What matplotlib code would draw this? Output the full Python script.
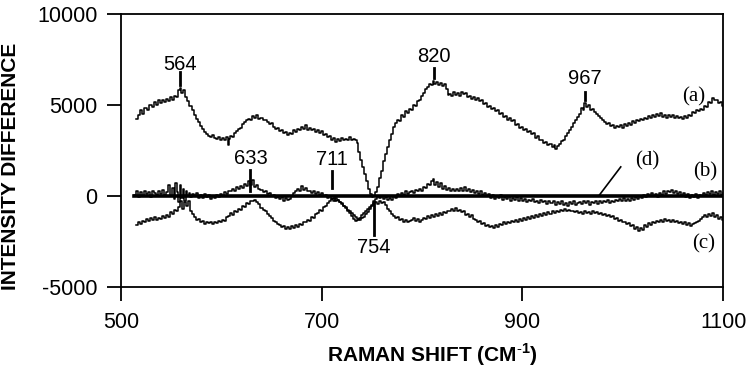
import matplotlib
matplotlib.use("Agg")
import matplotlib.pyplot as plt

plt.rcParams['font.family'] = ['Liberation Sans', 'DejaVu Sans']
plt.rcParams['mathtext.fontset'] = 'custom'
plt.rcParams['mathtext.bf'] = 'Liberation Sans:bold'
plt.rcParams['mathtext.rm'] = 'Liberation Sans'

# ---- data ----
a_x = [515, 518, 520, 522, 524, 527, 529, 532, 534, 536, 538, 540, 542, 544, 546, 548, 550, 552, 554, 556, 558, 559, 561, 563, 565,
       567, 569, 572, 574, 576, 578, 580, 582, 584, 586, 588, 590, 592, 594, 596, 598, 600, 602, 604, 606, 607, 608, 610, 612, 614,
       616, 618, 620, 622, 624, 626, 628, 630, 632, 634, 636, 638, 640, 642, 644, 646, 648, 650, 652, 654, 656, 658, 660, 662, 664,
       666, 668, 670, 672, 674, 676, 678, 680, 682, 684, 686, 688, 690, 692, 694, 696, 698, 700, 702, 704, 706, 708, 710, 712, 714,
       716, 718, 720, 722, 724, 726, 728, 730, 732, 734, 736, 737, 739, 741, 743, 745, 747, 749, 751, 752, 754, 756, 758, 760, 762,
       764, 766, 768, 770, 772, 774, 776, 778, 780, 782, 784, 786, 788, 790, 792, 794, 796, 798, 800, 802, 804, 806, 808, 810, 811,
       813, 815, 817, 819, 821, 823, 825, 826, 828, 830, 832, 834, 836, 838, 840, 842, 844, 846, 848, 850, 852, 854, 856, 858, 860,
       862, 864, 866, 868, 870, 872, 874, 876, 878, 880, 882, 884, 886, 888, 890, 892, 894, 896, 898, 900, 902, 904, 906, 908, 910,
       912, 914, 916, 918, 920, 922, 924, 926, 928, 930, 932, 933, 935, 937, 939, 941, 943, 945, 947, 949, 951, 953, 955, 957, 959,
       961, 962, 964, 966, 968, 970, 972, 974, 976, 978, 980, 982, 984, 986, 988, 990, 992, 994, 996, 998, 1000, 1002, 1004, 1006, 1008,
       1010, 1012, 1014, 1016, 1018, 1020, 1022, 1024, 1026, 1028, 1030, 1032, 1034, 1036, 1038, 1040, 1042, 1044, 1046, 1048, 1050,
       1052, 1054, 1056, 1058, 1060, 1062, 1064, 1066, 1068, 1070, 1072, 1074, 1076, 1078, 1080, 1082, 1084, 1086, 1088, 1090, 1092,
       1094, 1096, 1098, 1100]
a_y = [4250, 4450, 4700, 4500, 4850, 4700, 5000, 4900, 5150, 5000, 5250, 5100, 5300, 5150, 5350, 5200, 5450, 5300, 5500, 5450, 5800, 5950, 5650, 5800, 5450,
       5200, 4950, 4700, 4450, 4250, 4050, 3850, 3700, 3500, 3400, 3300, 3250, 3350, 3200, 3150, 3250, 3100, 3200, 3050, 3250, 2800, 3150, 3300, 3250, 3450,
       3550, 3700, 3750, 3950, 4050, 4150, 4250, 4200, 4400, 4300, 4450, 4250, 4300, 4150, 4200, 4050, 3950, 4000, 3800, 3700, 3750, 3550, 3600, 3450, 3500,
       3350, 3450, 3400, 3600, 3500, 3700, 3650, 3800, 3700, 3900, 3650, 3750, 3600, 3700, 3500, 3600, 3450, 3550, 3350, 3400, 3250, 3300, 3100, 3200, 2950,
       3150, 3000, 3200, 3050, 3150, 3100, 3250, 3100, 3150, 3050, 2900, 2400, 2000, 1600, 1200, 800, 400, 100, -50, 0, 200, 500, 1000, 1400, 1900,
       2300, 2700, 3100, 3400, 3800, 4000, 4200, 4100, 4450, 4350, 4650, 4550, 4800, 4700, 5000, 4950, 5200, 5300, 5500, 5650, 5900, 6000, 6150, 6100, 6300,
       6150, 6250, 6100, 6200, 6050, 6150, 5900, 5550, 5600, 5500, 5700, 5550, 5650, 5500, 5700, 5600, 5650, 5450, 5500, 5350, 5450, 5300, 5400, 5200, 5250,
       5050, 5100, 4900, 4950, 4800, 4850, 4650, 4700, 4500, 4550, 4350, 4400, 4200, 4300, 4100, 4150, 3900, 3950, 3750, 3800, 3600, 3700, 3500, 3550, 3400,
       3450, 3200, 3300, 3050, 3100, 2900, 2950, 2800, 2850, 2700, 2800, 2600, 2750, 2850, 3000, 3100, 3300, 3450, 3600, 3800, 4000, 4150, 4350, 4500, 4850,
       4750, 5100, 4900, 5000, 4750, 4800, 4600, 4500, 4400, 4300, 4150, 4050, 3950, 4000, 3850, 3900, 3750, 3850, 3800, 3900, 3750, 3950, 3850, 4000, 3900,
       4100, 4000, 4150, 4100, 4250, 4200, 4300, 4250, 4400, 4300, 4450, 4350, 4500, 4400, 4550, 4350, 4450, 4300, 4450, 4350, 4450,
       4300, 4400, 4300, 4350, 4250, 4400, 4300, 4450, 4400, 4600, 4550, 4700, 4650, 4800, 4750, 4950, 4900, 5150, 5100, 5400, 5250,
       5300, 5100, 5150, 4950]

b_x = [513, 516, 518, 520, 522, 524, 526, 528, 530, 532, 534, 536, 538, 540, 542, 544, 546, 548, 550, 552, 553, 555, 556, 558, 559,
       561, 562, 564, 565, 567, 568, 570, 572, 574, 576, 578, 580, 582, 584, 586, 588, 590, 592, 594, 596, 598, 600, 602, 604, 606,
       608, 610, 612, 614, 616, 618, 620, 622, 624, 626, 628, 630, 632, 634, 636, 638, 640, 642, 644, 646, 648, 650, 652, 654, 656,
       658, 660, 662, 664, 666, 668, 670, 672, 674, 676, 678, 680, 682, 684, 686, 688, 690, 692, 694, 696, 698, 700, 702, 704, 706,
       708, 710, 712, 714, 716, 718, 720, 722, 724, 726, 728, 730, 732, 734, 736, 738, 740, 742, 744, 746, 748, 750, 752, 754, 756,
       758, 760, 762, 764, 766, 768, 770, 772, 774, 776, 778, 780, 782, 784, 786, 788, 790, 792, 794, 796, 798, 800, 802, 804, 806,
       808, 810, 811, 813, 815, 817, 819, 821, 823, 825, 827, 829, 831, 833, 835, 837, 839, 841, 843, 845, 847, 849, 851, 853, 855,
       857, 859, 861, 863, 865, 867, 869, 871, 873, 875, 877, 879, 881, 883, 885, 887, 889, 891, 893, 895, 897, 899, 901, 903, 905,
       907, 909, 911, 913, 915, 917, 919, 921, 923, 925, 927, 929, 931, 933, 935, 937, 939, 941, 943, 945, 947, 949, 951, 953, 955,
       957, 959, 961, 963, 965, 967, 969, 971, 973, 975, 977, 979, 981, 983, 985, 987, 989, 991, 993, 995, 997, 999, 1001, 1003, 1005,
       1007, 1009, 1011, 1013, 1015, 1017, 1019, 1021, 1023, 1025, 1027, 1029, 1031, 1033, 1035, 1037, 1039, 1041, 1043, 1045, 1047,
       1049, 1051, 1053, 1055, 1057, 1059, 1061, 1063, 1065, 1067, 1069, 1071, 1073, 1075, 1077, 1079, 1081, 1083, 1085, 1087, 1089,
       1091, 1093, 1095, 1097, 1099, 1100]
b_y = [50, 250, -50, 200, 0, 300, 100, 200, -50, 250, 150, 50, 300, 100, 350, 50, 200, 600, 0, 450, -150, 700, 200, -350, 600,
       -100, 400, -250, 250, 0, 150, -50, 100, 0, 150, -100, 50, -100, 100, -50, 50, -150, 0, -100, 50, -50, 100, 0, 200, 100,
       300, 250, 400, 300, 500, 400, 550, 450, 650, 550, 850, 600, 900, 500, 600, 400, 350, 200, 250, 100, 150, 0, 50, -100, -50,
       -150, -50, -250, -100, -200, -150, 0, 150, 250, 400, 300, 550, 350, 450, 250, 300, 150, 250, 100, 200, 50, 150, 0, 50, -100,
       0, -150, -100, -250, -200, -350, -400, -550, -600, -750, -850, -950, -1050, -1150, -1250, -1300, -1200, -1150, -1000, -900, -700, -550, -300, -150, 0,
       -100, 0, -150, -50, -200, -100, -200, 0, -100, 100, 0, 150, 50, 250, 100, 200, 300, 150, 350, 250, 400, 300, 500, 450, 650,
       600, 800, 950, 600, 750, 500, 700, 400, 550, 350, 450, 300, 400, 250, 400, 300, 450, 250, 500, 300, 400, 200, 350, 150, 300,
       100, 250, 50, 150, 0, 100, -100, 50, -150, 0, -100, 50, -200, -50, -150, 0, -250, -100, -200, -50, -300, -100, -250, -150, -350,
       -200, -300, -150, -350, -250, -400, -200, -350, -300, -450, -250, -400, -300, -500, -350, -450, -300, -500, -400, -550, -350, -450, -300, -500, -400,
       -350, -450, -250, -400, -300, -500, -350, -400, -250, -450, -300, -400, -250, -350, -200, -400, -250, -350, -200, -300, -150, -250, -100, -250, -150,
       -300, -100, -200, -50, -150, 0, -100, 50, -50, 100, 0, 150, 0, 100, -50, 150, 50, 250, 100, 300, 200,
       350, 150, 250, 100, 200, 0, 150, -50, 100, -100, 50, -50, 100, -100, 50, 0, 150, 50, 200, 100, 250,
       50, 200, 100, 250, 50, 150]

c_x = [515, 518, 520, 522, 524, 526, 528, 530, 532, 534, 536, 538, 540, 542, 544, 546, 548, 550, 552, 554, 556, 558, 560, 562, 564,
       566, 568, 570, 572, 574, 576, 578, 580, 582, 584, 586, 588, 590, 592, 594, 596, 598, 600, 602, 604, 606, 608, 610, 612, 614,
       616, 618, 620, 622, 624, 626, 628, 630, 632, 634, 636, 638, 640, 642, 644, 646, 648, 650, 652, 654, 656, 658, 660, 662, 664,
       666, 668, 670, 672, 674, 676, 678, 680, 682, 684, 686, 688, 690, 692, 694, 696, 698, 700, 702, 704, 706, 708, 710, 712, 714,
       716, 718, 720, 722, 724, 726, 728, 730, 732, 734, 736, 738, 740, 742, 744, 746, 748, 750, 752, 754, 756, 758, 760, 762, 764,
       766, 768, 770, 772, 774, 776, 778, 780, 782, 784, 786, 788, 790, 792, 794, 796, 798, 800, 802, 804, 806, 808, 810, 812, 814,
       816, 818, 820, 822, 824, 826, 828, 830, 832, 834, 836, 838, 840, 842, 844, 846, 848, 850, 852, 854, 856, 858, 860, 862, 864,
       866, 868, 870, 872, 874, 876, 878, 880, 882, 884, 886, 888, 890, 892, 894, 896, 898, 900, 902, 904, 906, 908, 910, 912, 914,
       916, 918, 920, 922, 924, 926, 928, 930, 932, 934, 936, 938, 940, 942, 944, 946, 948, 950, 952, 954, 956, 958, 960, 962, 964,
       966, 968, 970, 972, 974, 976, 978, 980, 982, 984, 986, 988, 990, 992, 994, 996, 998, 1000, 1002, 1004, 1006, 1008, 1010, 1012, 1014,
       1016, 1018, 1020, 1022, 1024, 1026, 1028, 1030, 1032, 1034, 1036, 1038, 1040, 1042, 1044, 1046, 1048, 1050, 1052, 1054, 1056,
       1058, 1060, 1062, 1064, 1066, 1068, 1070, 1072, 1074, 1076, 1078, 1080, 1082, 1084, 1086, 1088, 1090, 1092, 1094, 1096, 1098, 1100]
c_y = [-1600, -1450, -1550, -1350, -1450, -1250, -1350, -1200, -1300, -1150, -1300, -1200, -1250, -1100, -1200, -1050, -1150, -900, -1000, -750, -850, -600, -300, -700, -350,
       -550, -300, -800, -1000, -1150, -1300, -1250, -1450, -1350, -1550, -1450, -1500, -1400, -1550, -1450, -1500, -1350, -1450, -1300, -1350, -1150, -1100, -950, -1050, -850,
       -900, -700, -750, -550, -600, -400, -450, -250, -300, -200, -350, -450, -650, -750, -850, -1000, -1100, -1200, -1350, -1400, -1550, -1600, -1700, -1650, -1800,
       -1700, -1800, -1650, -1750, -1600, -1700, -1550, -1600, -1400, -1450, -1300, -1350, -1150, -1200, -1000, -950, -750, -800, -600, -550, -400, -300, -150, -250, -100,
       -200, -350, -450, -550, -650, -800, -950, -1100, -1250, -1350, -1300, -1200, -1050, -950, -850, -700, -600, -500, -400, -350, -450, -300, -400, -350, -500,
       -700, -850, -1000, -1100, -1200, -1150, -1300, -1250, -1400, -1300, -1450, -1350, -1300, -1200, -1350, -1250, -1400, -1300, -1200, -1250, -1100, -1200, -1050, -1150, -1000,
       -1100, -950, -1050, -900, -950, -800, -850, -700, -800, -650, -850, -750, -900, -850, -1050, -1000, -1150, -1050, -1250, -1300, -1400, -1350, -1550, -1500, -1650,
       -1600, -1700, -1650, -1750, -1600, -1700, -1550, -1600, -1450, -1550, -1400, -1500, -1350, -1450, -1300, -1400, -1250, -1350, -1200, -1300, -1150, -1250, -1100, -1200, -1050,
       -1150, -1000, -1100, -950, -1050, -900, -1000, -850, -950, -800, -900, -750, -850, -700, -800, -750, -850, -800, -900, -850, -950, -900, -1000, -850, -950,
       -900, -1000, -850, -950, -900, -1000, -950, -1050, -1000, -1100, -1050, -1150, -1100, -1250, -1200, -1350, -1300, -1450, -1400, -1550, -1500, -1650, -1600, -1800, -1700,
       -1900, -1750, -1850, -1600, -1700, -1500, -1600, -1400, -1500, -1350, -1450, -1300, -1400, -1250, -1350, -1300, -1400, -1300, -1450, -1350, -1500,
       -1400, -1550, -1450, -1600, -1500, -1650, -1550, -1500, -1400, -1350, -1250, -1150, -1050, -1150, -1000, -1100, -950, -1150, -1050, -1250, -1150, -1300]

d_x = [513, 1100]
d_y = [0, 0]

x_ticks = [500, 700, 900, 1100]
y_ticks = [-5000, 0, 5000, 10000]

# peak annotations: label, x, label-y, tick start, tick end
peak_labels = ['564', '820', '967', '633', '711', '754']
peak_x = [559, 812, 962, 629, 710, 752]
peak_text_y = [7250, 7650, 6450, 2050, 2000, -2850]
peak_tick_y0 = [6800, 7050, 5700, 1450, 1350, -350]
peak_tick_y1 = [6100, 6500, 5250, 250, 450, -2150]

series_labels = ['(a)', '(b)', '(c)', '(d)']
series_label_x = [1059, 1070, 1069, 1012]
series_label_y = [5450, 1300, -2650, 1950]

fig = plt.figure(figsize=(7.47, 3.68), dpi=100)
ax = fig.add_axes([0.162, 0.22, 0.806, 0.742])

lw = 1.1
ax.plot(a_x, a_y, color='black', lw=lw, drawstyle='steps-mid')
ax.plot(b_x, b_y, color='black', lw=lw, drawstyle='steps-mid')
ax.plot(c_x, c_y, color='black', lw=lw, drawstyle='steps-mid')
ax.plot(d_x, d_y, color='black', lw=2.6)

ax.set_xlim(500, 1100)
ax.set_ylim(-5000, 10000)
ax.set_xticks(x_ticks)
ax.set_yticks(y_ticks)
ax.set_xticklabels([str(v) for v in x_ticks])
ax.set_yticklabels([str(v) for v in y_ticks])
ax.tick_params(axis='both', direction='out', length=10, width=1.3, labelsize=15.5)
ax.tick_params(axis='x', pad=8)
ax.tick_params(axis='y', pad=7)
for s in ax.spines.values():
    s.set_linewidth(1.3)

for lab, px, ty, t0, t1 in zip(peak_labels, peak_x, peak_text_y, peak_tick_y0, peak_tick_y1):
    ax.plot([px, px], [t0, t1], color='black', lw=2)
    ax.text(px, ty, lab, ha='center', va='center', fontsize=14.5)

for lab, lx, ly in zip(series_labels, series_label_x, series_label_y):
    ax.text(lx, ly, lab, ha='left', va='center', fontsize=15,
            family=['Liberation Serif', 'DejaVu Serif'])

# leader line for (d)
ax.plot([976, 998], [0, 1600], color='black', lw=1.2)

ax.set_xlabel(r'RAMAN SHIFT (CM$^{\mathbf{\text{-}1}}$)', fontsize=15, fontweight='bold')
ax.set_ylabel('INTENSITY DIFFERENCE', fontsize=15, fontweight='bold')
ax.xaxis.set_label_coords(0.517, -0.2)
ax.yaxis.set_label_coords(-0.168, 0.443)

fig.savefig('out.png', dpi=100)
